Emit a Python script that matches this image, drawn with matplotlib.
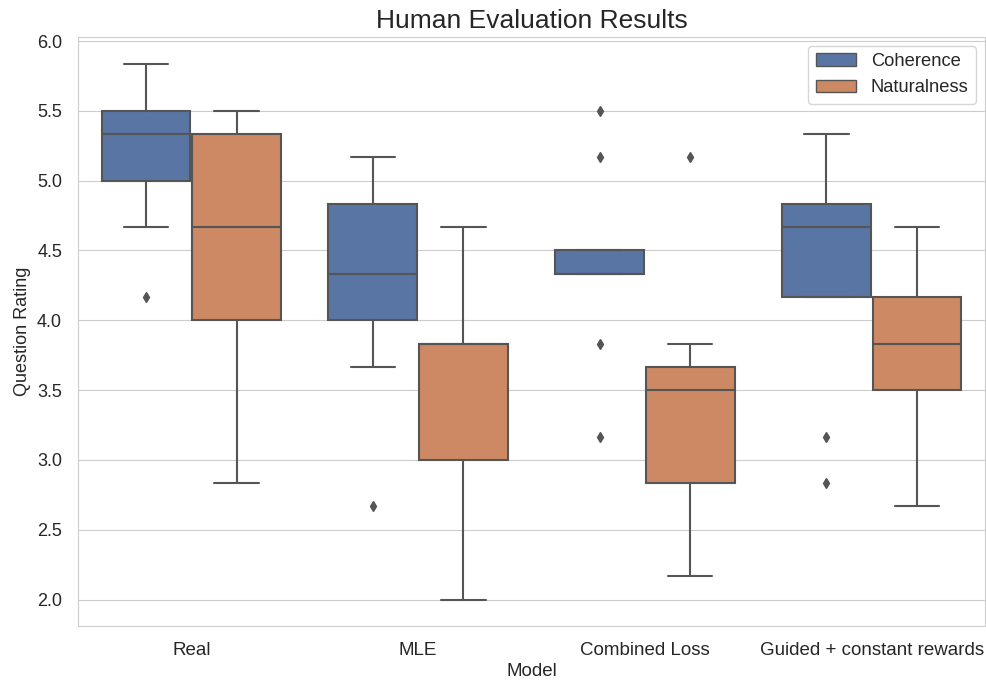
import numpy as np
import matplotlib
matplotlib.use('Agg')
import matplotlib.pyplot as plt
import matplotlib.patches as mpatches
import seaborn as sns

sns.set_style('whitegrid')
plt.rcParams['font.family'] = ['Liberation Sans', 'DejaVu Sans']

# Box statistics (ratings on a 1-7 scale)
models = ['Real', 'MLE', 'Combined Loss', 'Guided + constant rewards']
hues = ['Coherence', 'Naturalness']

coh_q1 = [5.00, 4.00, 4.333, 4.167]
coh_med = [5.333, 4.333, 4.333, 4.667]
coh_q3 = [5.50, 4.833, 4.50, 4.833]
coh_lo = [4.667, 3.667, 4.333, 4.167]
coh_hi = [5.833, 5.167, 4.50, 5.333]
coh_fliers = [[4.167], [2.667], [5.50, 5.167, 3.833, 3.167], [3.167, 2.833]]

nat_q1 = [4.00, 3.00, 2.833, 3.50]
nat_med = [4.667, 3.833, 3.50, 3.833]
nat_q3 = [5.333, 3.833, 3.667, 4.167]
nat_lo = [2.833, 2.00, 2.167, 2.667]
nat_hi = [5.50, 4.667, 3.833, 4.667]
nat_fliers = [[], [], [5.167], []]

BLUE = '#5975a4'
ORANGE = '#cc8963'
LINE = '#555555'


def make_stats(q1, med, q3, lo, hi, fl):
    return [dict(q1=a, med=b, q3=c, whislo=d, whishi=e, fliers=f)
            for a, b, c, d, e, f in zip(q1, med, q3, lo, hi, fl)]


fig, ax = plt.subplots(figsize=(9.87, 6.82), dpi=100)
fig.subplots_adjust(left=0.079, right=0.998, top=0.946, bottom=0.082)

x = np.arange(len(models))
width = 0.4 * 0.98
groups = [(make_stats(coh_q1, coh_med, coh_q3, coh_lo, coh_hi, coh_fliers), -0.2, BLUE),
          (make_stats(nat_q1, nat_med, nat_q3, nat_lo, nat_hi, nat_fliers), 0.2, ORANGE)]
for stats, off, col in groups:
    ax.bxp(stats, positions=x + off, widths=width, patch_artist=True,
           boxprops=dict(facecolor=col, edgecolor=LINE, linewidth=1.5),
           medianprops=dict(color=LINE, linewidth=1.5),
           whiskerprops=dict(color=LINE, linewidth=1.5),
           capprops=dict(color=LINE, linewidth=1.5),
           flierprops=dict(marker='d', markerfacecolor=LINE, markeredgecolor=LINE,
                           markersize=5),
           capwidths=width / 2, manage_ticks=False)

ax.set_xlim(-0.5, 3.5)
ax.set_ylim(1.81, 6.03)
ax.set_xticks(x)
ax.set_xticklabels(models)
ax.set_yticks(np.arange(2.0, 6.01, 0.5))
ax.tick_params(axis='x', labelsize=13.5, pad=8)
ax.tick_params(axis='y', labelsize=13, pad=8)
ax.grid(axis='x', visible=False)
ax.set_xlabel('Model', fontsize=13.5, labelpad=3)
ax.set_ylabel('Question Rating', fontsize=13, labelpad=4)
ax.set_title('Human Evaluation Results', fontsize=19, pad=6)

handles = [mpatches.Patch(facecolor=BLUE, edgecolor=LINE, label='Coherence'),
           mpatches.Patch(facecolor=ORANGE, edgecolor=LINE, label='Naturalness')]
ax.legend(handles=handles, loc='upper right', fontsize=13.2, handlelength=2.2,
          borderaxespad=0.5)

fig.savefig('out.png', dpi=100)
